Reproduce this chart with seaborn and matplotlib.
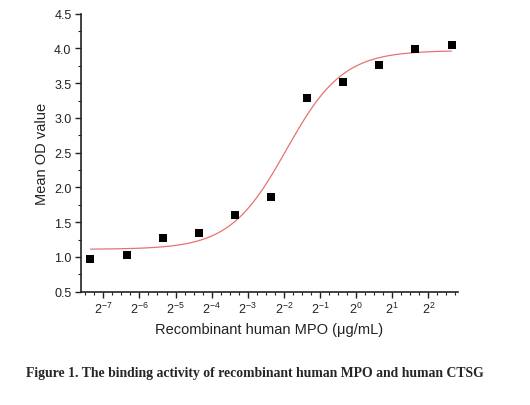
import numpy as np
import pandas as pd
import matplotlib
matplotlib.use('Agg')
import matplotlib.pyplot as plt
import matplotlib.ticker as mticker
import seaborn as sns

# concentrations: 6.25 ug/mL, two-fold dilutions
conc = [6.25 / 2 ** i for i in range(10, -1, -1)]
od_mean = [0.966, 1.029, 1.269, 1.346, 1.605, 1.859, 3.290, 3.510, 3.765, 3.986, 4.053]

# 4PL fit parameters
fit_bottom = 1.11
fit_top = 3.97
fit_ec50 = 0.262
fit_hill = 1.84

df = pd.DataFrame({'conc': conc, 'od': od_mean})

sns.set_theme(style='ticks')
plt.rcParams['font.family'] = ['Liberation Sans', 'DejaVu Sans']
plt.rcParams['axes.unicode_minus'] = False

fig = plt.figure(figsize=(5.3, 4.06), dpi=100)
ax = fig.add_axes([0.152, 0.279, 0.712, 0.685])

xfit = np.logspace(np.log2(min(conc)), np.log2(max(conc)), 300, base=2)
yfit = fit_bottom + (fit_top - fit_bottom) / (1 + (fit_ec50 / xfit) ** fit_hill)
sns.lineplot(x=xfit, y=yfit, ax=ax, color='#e57373', linewidth=0.9)
sns.scatterplot(data=df, x='conc', y='od', ax=ax, marker='s', s=28,
                color='black', edgecolor='black', linewidth=0, zorder=3)

ax.set_xscale('log', base=2)
ax.set_xlim(2 ** -7.63, 2 ** 2.82)
ax.set_ylim(0.5, 4.5)
ax.xaxis.set_major_locator(mticker.FixedLocator([2.0 ** p for p in range(-7, 3)]))
ax.xaxis.set_major_formatter(mticker.LogFormatterSciNotation(base=2))
ax.xaxis.set_minor_locator(mticker.FixedLocator(
    [2.0 ** (p + q / 4) for p in range(-8, 3) for q in (1, 2, 3)]))
ax.xaxis.set_minor_formatter(mticker.NullFormatter())
ax.yaxis.set_major_locator(mticker.MultipleLocator(0.5))
ax.yaxis.set_minor_locator(mticker.MultipleLocator(0.25))
ax.yaxis.set_major_formatter(mticker.FormatStrFormatter('%.1f'))

ax.tick_params(which='major', direction='out', length=4.5, width=1, labelsize=9,
               colors='#222222', pad=2)
ax.tick_params(which='minor', direction='out', length=2.5, width=0.8, colors='#222222')
for side in ['left', 'bottom']:
    ax.spines[side].set_linewidth(1.2)
    ax.spines[side].set_color('#222222')
sns.despine(ax=ax)

ax.set_xlabel('Recombinant human MPO (\u03bcg/mL)', fontsize=10.5, color='#222222', labelpad=4)
ax.set_ylabel('Mean OD value', fontsize=10.5, color='#222222', labelpad=4)

fig.text(0.481, 0.081, 'Figure 1. The binding activity of recombinant human MPO and human CTSG',
         ha='center', va='center', fontsize=9.9, fontweight='bold',
         family=['Liberation Serif', 'DejaVu Serif'])

fig.savefig('out.png', dpi=100)
